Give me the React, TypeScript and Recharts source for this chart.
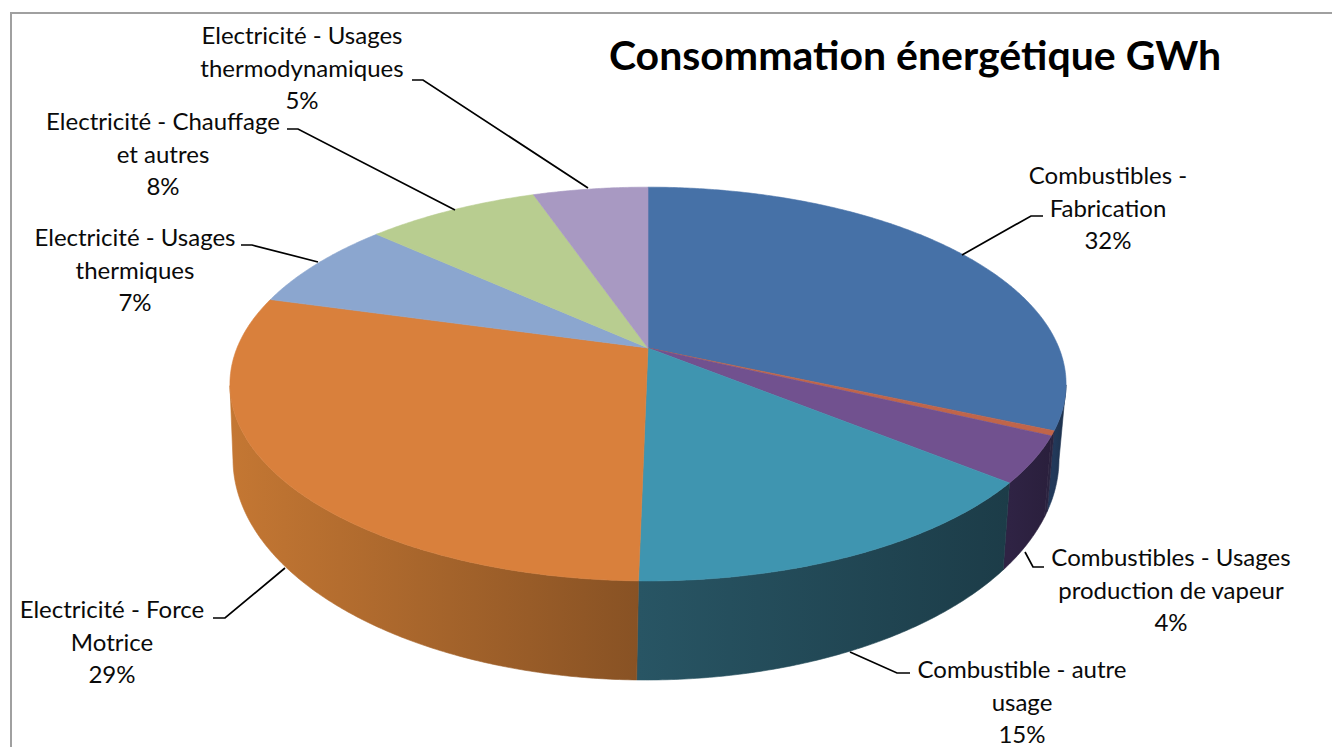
import { Pie, PieChart } from "recharts";

const categories = [
  "Combustibles - Fabrication",
  "Combustibles - Autres",
  "Combustibles - Usages production de vapeur",
  "Combustible - autre usage",
  "Electricité - Force Motrice",
  "Electricité - Usages thermiques",
  "Electricité - Chauffage et autres",
  "Electricité - Usages thermodynamiques",
];
const shares = [31.6, 0.4, 3.8, 14.5, 29, 7.4, 8, 5.3];
const labelLines = [
  ["Combustibles -", "Fabrication"],
  [],
  ["Combustibles - Usages", "production de vapeur"],
  ["Combustible - autre", "usage"],
  ["Electricité - Force", "Motrice"],
  ["Electricité - Usages", "thermiques"],
  ["Electricité - Chauffage", "et autres"],
  ["Electricité - Usages", "thermodynamiques"],
];
const topColors = ["#4671a7", "#c0654a", "#71518f", "#3f95b0", "#d9803c", "#8ba6cf", "#b8cd90", "#a899c2"];
const wallFrom = ["#22395a", "#2a2440", "#2f2344", "#285564", "#c47733", "#43587a", "#5f6e48", "#544a66"];
const wallTo = ["#1d3049", "#2a2440", "#2a1f3c", "#1c3c48", "#885224", "#43587a", "#5f6e48", "#544a66"];

// hand placed, one per slice: text centre, first baseline, leader polyline
const labelSpots = [
  { x: 1108, y: 184, leader: "1043,216 1031,216 962,255" },
  null,
  { x: 1171, y: 566, leader: "1044,567 1033,567 1025,552" },
  { x: 1022, y: 678, leader: "910,673 897,673 850,652" },
  { x: 112, y: 618, leader: "213,618 225,618 285,568" },
  { x: 135, y: 246, leader: "241,245 252,245 318,262" },
  { x: 163, y: 130, leader: "287,129 298,129 455,210" },
  { x: 302, y: 44, leader: "412,80 423,80 588,188" },
];

const tableData = categories.map((name, i) => ({
  name,
  value: shares[i],
  top: topColors[i],
  from: wallFrom[i],
  to: wallTo[i],
}));

const FONT = "Lato, Carlito, sans-serif";
const RAD = Math.PI / 180;

// perspective of the disc: near edge is bigger than the far edge
const PERSP = 0.183;
const SQUASH = 0.463;

function topPoint(cx: number, cy: number, r: number, deg: number) {
  const u = Math.cos(deg * RAD);
  const v = -Math.sin(deg * RAD);
  const s = 1 / (1 - PERSP * v);
  return { x: cx + r * u * s, y: cy + r * SQUASH * v * s, v };
}

function arcAngles(startAngle: number, endAngle: number) {
  const out: number[] = [];
  const n = Math.max(2, Math.ceil(Math.abs(endAngle - startAngle) / 0.5));
  for (let i = 0; i <= n; i++) out.push(startAngle + ((endAngle - startAngle) * i) / n);
  return out;
}

function TopSlice(props: any) {
  const { cx, cy, outerRadius, startAngle, endAngle, payload } = props;
  const pts = arcAngles(startAngle, endAngle).map((a) => topPoint(cx, cy, outerRadius, a));
  const d = `M${cx},${cy} ` + pts.map((p) => `L${p.x},${p.y}`).join(" ") + " Z";
  return <path d={d} fill={payload.top} stroke={payload.top} strokeWidth={0.6} />;
}

// lower rim: a plain ellipse below the top face, walls stay vertical
function lowerRim(cx: number, cy: number, x: number) {
  const xb = cx - 2 + (x - cx) * (413 / 418);
  const t = Math.min(1, Math.abs(xb - (cx - 2)) / 413);
  return { x: xb, y: cy + 111 + 221 * Math.sqrt(1 - t * t) };
}

function WallSlice(props: any) {
  const { cx, cy, outerRadius, startAngle, endAngle, payload, index } = props;
  const upper = arcAngles(startAngle, endAngle)
    .map((a) => topPoint(cx, cy, outerRadius, a))
    .filter((p) => p.v >= PERSP);
  if (upper.length < 2) return <g />;
  const lower = upper.map((p) => lowerRim(cx, cy, p.x)).reverse();
  const d = [...upper, ...lower].map((p, i) => `${i ? "L" : "M"}${p.x},${p.y}`).join(" ") + " Z";
  const xs = upper.map((p) => p.x);
  const id = `wall-${index}`;
  return (
    <g>
      <linearGradient id={id} gradientUnits="userSpaceOnUse" x1={Math.min(...xs)} x2={Math.max(...xs)} y1={0} y2={0}>
        <stop offset="0" stopColor={payload.from} />
        <stop offset="1" stopColor={payload.to} />
      </linearGradient>
      <path d={d} fill={`url(#${id})`} stroke={`url(#${id})`} strokeWidth={0.6} />
    </g>
  );
}

function SliceLabel(props: any) {
  const { index, value } = props;
  const spot = labelSpots[index];
  if (!spot) return null;
  const lines = [...labelLines[index], `${Math.round(value)}%`];
  return (
    <g>
      <polyline points={spot.leader} fill="none" stroke="#000" strokeWidth={1.7} />
      <text textAnchor="middle" fontFamily={FONT} fontSize={24} fill="#0a0a0a">
        {lines.map((t, i) => (
          <tspan key={i} x={spot.x} y={spot.y + i * 32.7}>
            {t}
          </tspan>
        ))}
      </text>
    </g>
  );
}

export default function App() {
  return (
    <div style={{ position: "absolute", left: 0, top: 0, width: 1332, height: 747, overflow: "hidden", background: "#fff" }}>
      <div
        style={{
          position: "absolute",
          left: 10,
          top: 12,
          width: 1330,
          height: 740,
          borderTop: "2px solid #a0a0a0",
          borderLeft: "2px solid #a0a0a0",
        }}
      />
      <PieChart width={1332} height={747} margin={{ top: 0, right: 0, bottom: 0, left: 0 }}>
        <Pie
          data={tableData}
          dataKey="value"
          nameKey="name"
          cx={648}
          cy={348}
          outerRadius={411}
          startAngle={90}
          endAngle={-270}
          stroke="none"
          shape={WallSlice}
          isAnimationActive={false}
        />
        <Pie
          data={tableData}
          dataKey="value"
          nameKey="name"
          cx={648}
          cy={348}
          outerRadius={411}
          startAngle={90}
          endAngle={-270}
          stroke="none"
          shape={TopSlice}
          label={SliceLabel}
          labelLine={false}
          isAnimationActive={false}
        />
        <text x={915} y={70} textAnchor="middle" fontFamily={FONT} fontWeight={700} fontSize={41} fill="#000">
          Consommation énergétique GWh
        </text>
      </PieChart>
    </div>
  );
}
